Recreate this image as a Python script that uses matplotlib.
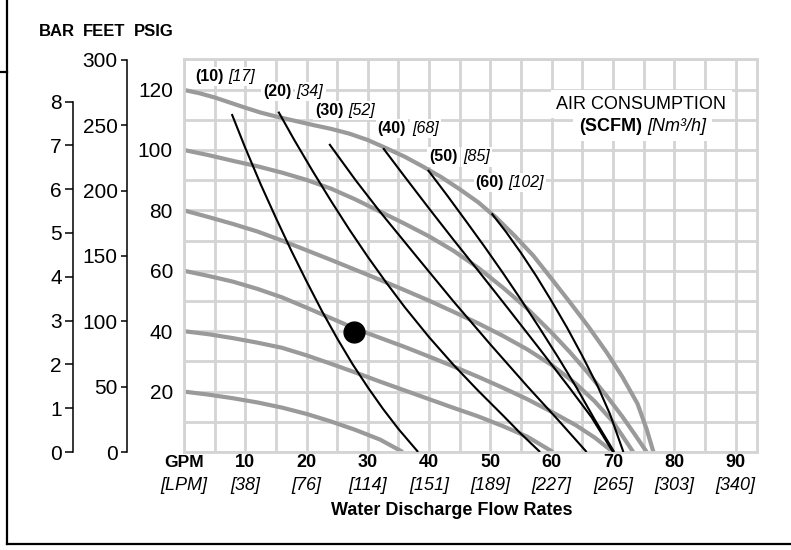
import numpy as np
import matplotlib
matplotlib.use("Agg")
import matplotlib.pyplot as plt
from matplotlib.lines import Line2D

plt.rcParams['font.family'] = ['Liberation Sans', 'DejaVu Sans']

# gray curves: discharge head (psig) vs flow (gpm) at constant air inlet pressure
p120_x = [0, 2.5, 5, 7.5, 10, 12.5, 15, 18, 21, 24, 27, 30, 33, 36, 39, 42, 45, 48, 51, 54,
          57, 60, 63, 66, 69, 71.5, 74, 75.5, 76.6]
p120_y = [119.9, 118.8, 117.4, 115.7, 114, 112.4, 111.1, 109.7, 108.3, 107, 105.4, 103.3, 100.6,
          97.8, 94.5, 91, 87, 82.7, 77.5, 71.5, 65, 57.3, 49.5, 41.5, 32.9, 25, 16, 7.5, 0]
p100_x = [0, 4, 8, 12, 16, 20, 24, 28, 32, 36, 40, 44, 48, 52, 56, 60, 63, 66, 69, 71.5, 73.5, 75.5]
p100_y = [100, 98.3, 96.4, 94.6, 92.5, 90.1, 87.2, 83.6, 79.6, 75.6, 71.4, 66.6, 61, 54.5, 47.5,
          39.5, 33, 26, 18.5, 11.8, 6, 0]
p80_x = [0, 4, 8, 12, 16, 20, 24, 28, 32, 36, 40, 44, 48, 52, 56, 60, 64, 67, 70, 73.3]
p80_y = [80, 77.8, 75.5, 73, 70, 66.8, 63.6, 60.3, 57, 53.6, 50.1, 46.4, 42.6, 38.5, 34, 28.8,
         22.5, 16.8, 10, 0]
p60_x = [0, 4, 8, 12, 16, 20, 24, 28, 32, 36, 40, 44, 48, 52, 56, 60, 64, 67, 70]
p60_y = [60, 58.3, 56.4, 54, 51.2, 47.8, 44.3, 40.8, 37.8, 34.8, 31.6, 28.3, 24.9, 21.3, 17.5,
         13.3, 8.8, 4.8, 0]
p40_x = [0, 4, 8, 12, 16, 20, 24, 28, 32, 36, 40, 44, 48, 52, 56, 60.2]
p40_y = [40, 39, 37.7, 36.2, 34.5, 32, 29.2, 26.3, 23.3, 20.4, 17.5, 14.6, 11.8, 8.6, 5.1, 0]
p20_x = [0, 4, 8, 12, 16, 20, 24, 28, 32, 35.7]
p20_y = [20, 19, 17.8, 16.4, 14.7, 12.6, 10.1, 7.3, 4.1, 0]

# black curves: air consumption SCFM
c10_x = [7.8, 10, 12.5, 15, 17.5, 20, 22.5, 25, 27.5, 30, 32.5, 35, 38.2]
c10_y = [111.9, 100.7, 88.7, 77.5, 66.7, 56.5, 46.7, 37.6, 29.1, 21.4, 14.2, 7.6, 0]
c20_x = [15.4, 18, 21, 24, 27, 30, 33, 36, 40, 44, 48, 52, 55, 58.1]
c20_y = [112.7, 103.3, 93, 83.1, 73.6, 64.6, 56.1, 48, 38, 28.8, 20.3, 12.2, 6, 0]
c30_x = [23.7, 28, 32, 38, 44, 50, 56, 61, 65.7]
c30_y = [102, 90, 79.5, 64.6, 49.8, 35.6, 21.8, 10.7, 0]
c40_x = [32.5, 36, 40, 44, 48.3, 53, 58, 63, 66.5, 70]
c40_y = [100.6, 91.2, 80.6, 70.2, 59.3, 47.2, 34.2, 21, 11.5, 0]
c50_x = [39.8, 43, 46, 49, 52, 55, 58, 61, 64, 67, 70.2]
c50_y = [93.4, 84.8, 76.5, 68.1, 59.4, 50.4, 41.1, 31.5, 21.5, 10.8, 0]
c60_x = [50.2, 52.5, 55, 57.5, 60, 62.5, 65, 67.5, 69.5, 71.7]
c60_y = [79, 73, 65.9, 58.2, 49.9, 41.2, 31.8, 21.8, 12.6, 0]

scfm = ['10', '20', '30', '40', '50', '60']
nm3h = ['17', '34', '52', '68', '85', '102']
label_x = [1.8, 12.9, 21.4, 31.6, 40, 47.6]
label_y = [124.2, 119.5, 113.2, 107, 97.7, 89.1]
bracket_x = [7.2, 18.4, 26.8, 37.2, 45.5, 52.9]

gpm_ticks = [10, 20, 30, 40, 50, 60, 70, 80, 90]
lpm_ticks = [38, 76, 114, 151, 189, 227, 265, 303, 340]

point_x, point_y = 27.7, 39.8

fig = plt.figure(figsize=(7.91, 5.5), dpi=100)
ax = fig.add_axes([184/791, 98/550, 573/791, 392.6/550])
ax.set_xlim(0, 93.5)
ax.set_ylim(0, 130)
ax.set_xticks(np.arange(0, 91, 5))
ax.set_yticks(np.arange(0, 131, 10))
ax.set_axisbelow(True)
ax.grid(color='#d4d4d4', lw=2)
for s in ax.spines.values():
    s.set_color('#d4d4d4')
    s.set_linewidth(2)
ax.tick_params(length=0, labelbottom=False, labelsize=15, pad=8)
ax.set_yticklabels([str(v) if v in (20, 40, 60, 80, 100, 120) else '' for v in range(0, 131, 10)])

gray = '#9a9a9a'
for xs, ys in [(p120_x, p120_y), (p100_x, p100_y), (p80_x, p80_y),
               (p60_x, p60_y), (p40_x, p40_y), (p20_x, p20_y)]:
    ax.plot(xs, ys, color=gray, lw=3, solid_capstyle='butt', solid_joinstyle='round', zorder=2)
for xs, ys in [(c10_x, c10_y), (c20_x, c20_y), (c30_x, c30_y),
               (c40_x, c40_y), (c50_x, c50_y), (c60_x, c60_y)]:
    ax.plot(xs, ys, color='black', lw=1.5, solid_capstyle='butt', solid_joinstyle='round', zorder=3)
ax.plot(point_x, point_y, 'o', ms=15, color='black', zorder=5)

box = dict(facecolor='white', edgecolor='none', pad=1.5)
for s, n, lx, ly, bx in zip(scfm, nm3h, label_x, label_y, bracket_x):
    ax.text(lx, ly, f'({s})', fontsize=11.5, fontweight='bold', va='center', bbox=box, zorder=6)
    ax.text(bx, ly, f'[{n}]', fontsize=11.5, fontstyle='italic', va='center', bbox=box, zorder=6)

wbox = dict(facecolor='white', edgecolor='none', pad=4)
ax.text(0.798, 0.886, 'AIR CONSUMPTION', transform=ax.transAxes, fontsize=13,
        ha='center', va='center', bbox=wbox, zorder=6)
ax.text(0.799, 0.828, '(SCFM)', transform=ax.transAxes, fontsize=13, fontweight='bold',
        ha='right', va='center', bbox=wbox, zorder=6)
ax.text(0.809, 0.828, '[Nm³/h]', transform=ax.transAxes, fontsize=13, fontstyle='italic',
        ha='left', va='center', bbox=wbox, zorder=6)

# x labels
xt = ax.get_xaxis_transform()
ax.text(0, -0.028, 'GPM', transform=xt, ha='center', va='center', fontsize=12.5, fontweight='bold')
ax.text(0, -0.0866, '[LPM]', transform=xt, ha='center', va='center', fontsize=13, fontstyle='italic')
for g, l in zip(gpm_ticks, lpm_ticks):
    ax.text(g, -0.028, str(g), transform=xt, ha='center', va='center', fontsize=13, fontweight='bold')
    ax.text(g, -0.0866, f'[{l}]', transform=xt, ha='center', va='center', fontsize=13, fontstyle='italic')
ax.text(0.468, -0.150, 'Water Discharge Flow Rates', transform=ax.transAxes, ha='center',
        va='center', fontsize=13, fontweight='bold')

# bar and feet scales
bar = ax.secondary_yaxis(-0.1937, functions=(lambda p: p / 14.5038, lambda b: b * 14.5038))
bar.set_yticks(range(0, 9))
bar.spines['left'].set_bounds(0, 8)
bar.tick_params(length=5.5, width=1.1, labelsize=15, pad=2.5)
feet = ax.secondary_yaxis(-0.0995, functions=(lambda p: p * 2.31, lambda f: f / 2.31))
feet.set_yticks(range(0, 301, 50))
feet.spines['left'].set_bounds(0, 300)
feet.tick_params(length=4, width=1.1, labelsize=15, pad=2.8)
for sec in (bar, feet):
    sec.spines['left'].set_linewidth(1.1)

fig.text(57/791, 0.9427, 'BAR', ha='center', va='center', fontsize=12, fontweight='bold')
fig.text(104/791, 0.9427, 'FEET', ha='center', va='center', fontsize=12, fontweight='bold')
fig.text(154/791, 0.9427, 'PSIG', ha='center', va='center', fontsize=12, fontweight='bold')

# page frame
fig.add_artist(Line2D([7/791, 7/791], [1, 6/550], color='black', lw=1.6))
fig.add_artist(Line2D([7/791, 1], [6/550, 6/550], color='black', lw=1.6))
fig.add_artist(Line2D([0, 7/791], [478/550, 478/550], color='black', lw=1.6))

fig.savefig('out.png', dpi=100)
